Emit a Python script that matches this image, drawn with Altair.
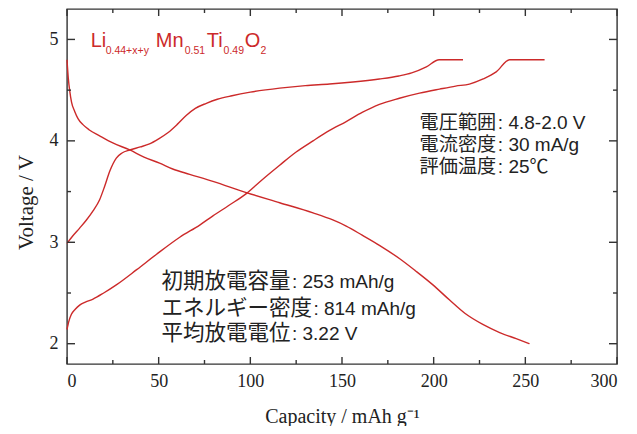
import altair as alt
import pandas as pd

# ---- data ----
# first charge (starts at ~3.0 V)
cap_c1 = [0, 3, 6.9, 10.6, 14.2, 17.8, 20.5, 23.3, 26.9, 30, 34.2, 40, 45, 50, 55,
          60, 65, 70, 76, 82, 90, 100, 116, 130, 143.2, 156, 170.4, 181, 188, 196, 203, 216]
volt_c1 = [2.99, 3.06, 3.14, 3.22, 3.31, 3.42, 3.55, 3.70, 3.83, 3.88, 3.91, 3.94, 3.97, 4.02, 4.08,
           4.16, 4.25, 4.32, 4.37, 4.41, 4.445, 4.48, 4.52, 4.545, 4.56, 4.58, 4.61, 4.64, 4.67, 4.73,
           4.80, 4.80]

# second charge (starts at ~2.15 V)
cap_c2 = [0, 1, 2.4, 4.5, 6.9, 10, 14.2, 20, 26.9, 38, 48.7, 61.5, 72.4, 79.6, 88, 97.8, 106,
          116, 125, 134.2, 143, 152.3, 161, 170.4, 181.3, 192.3, 203.2, 212, 219.5, 227, 234.1,
          241.4, 250, 260.5]
volt_c2 = [2.14, 2.22, 2.29, 2.34, 2.38, 2.41, 2.44, 2.50, 2.58, 2.73, 2.88, 3.05, 3.17, 3.26, 3.36,
           3.48, 3.61, 3.76, 3.89, 4.00, 4.10, 4.19, 4.28, 4.36, 4.42, 4.47, 4.51, 4.54, 4.56, 4.61,
           4.68, 4.80, 4.80, 4.80]

# discharge
cap_d = [0, 0.7, 1.5, 2.5, 4.2, 6, 8.7, 12, 17.8, 25, 34.2, 42, 50.5, 58, 66.9, 79.6, 97.8, 116,
         134.2, 145, 152.3, 161, 170.4, 181.3, 190, 199.6, 208.7, 217, 226.8, 236, 245, 252.3]
volt_d = [4.80, 4.62, 4.49, 4.38, 4.29, 4.22, 4.16, 4.11, 4.05, 3.98, 3.91, 3.84, 3.78, 3.72, 3.67,
          3.60, 3.49, 3.39, 3.29, 3.22, 3.16, 3.07, 2.97, 2.84, 2.72, 2.58, 2.43, 2.30, 2.19, 2.11,
          2.05, 2.00]

x_major = [0, 50, 100, 150, 200, 250, 300]
x_minor = [25, 75, 125, 175, 225, 275]
y_major = [2, 3, 4, 5]
y_minor = [2.5, 3.5, 4.5]

# annotation texts (Japanese part, then the Latin part that follows it)
right_jp = ["電圧範囲", "電流密度", "評価温度"]
right_lat = [": 4.8-2.0 V", ": 30 mA/g", ": 25℃"]
right_y = [4.114, 3.897, 3.687]
right_x = 192.3
bottom_jp = ["初期放電容量", "エネルギー密度", "平均放電電位"]
bottom_lat = [": 253 mAh/g", ": 814 mAh/g", ": 3.22 V"]
bottom_y = [2.550, 2.286, 2.040]
bottom_x = 51.5

formula_big = ["Li", "Mn", "Ti", "O"]
formula_big_x = [12.9, 48.4, 76.2, 96.9]
formula_sub = ["0.44+x+y", "0.51", "0.49", "2"]
formula_sub_x = [21.1, 64.2, 85.4, 105.6]
formula_big_y = 4.924
formula_sub_y = 4.852

RED = "#cc2a2a"
INK = "#222222"
W, H = 550, 355
PX = 300 / W  # data units per pixel along x
JP_R, JP_B, LAT = 19.2, 21.5, 19

rows = []
for name, xs, ys in [("charge1", cap_c1, volt_c1), ("charge2", cap_c2, volt_c2), ("discharge", cap_d, volt_d)]:
    for i, (a, b) in enumerate(zip(xs, ys)):
        rows.append({"series": name, "cap": a, "volt": b, "order": i})
df = pd.DataFrame(rows)

xscale = alt.Scale(domain=[0, 300], nice=False, zero=False)
yscale = alt.Scale(domain=[1.8, 5.3], nice=False, zero=False)

xaxis = alt.Axis(values=x_major, title="Capacity / mAh g⁻¹", ticks=False, domain=False, grid=False,
                 labelFont="Liberation Serif", labelFontSize=18, labelColor=INK, labelPadding=8,
                 titleFont="Liberation Serif", titleFontSize=20, titleFontWeight="normal",
                 titleColor=INK, titlePadding=16)
yaxis = alt.Axis(values=y_major, title="Voltage / V", ticks=False, domain=False, grid=False,
                 labelFont="Liberation Serif", labelFontSize=18, labelColor=INK, labelPadding=9,
                 titleFont="Liberation Serif", titleFontSize=21, titleFontWeight="normal",
                 titleColor=INK, titleX=-31, titleY=193)

X = alt.X("cap:Q", scale=xscale, axis=xaxis)
Y = alt.Y("volt:Q", scale=yscale, axis=yaxis)

lines = alt.Chart(df).mark_line(color=RED, strokeWidth=1.4, interpolate="monotone").encode(
    x=X, y=Y, detail="series:N", order="order:Q")

TC = "#333333"
def xticks(vals, length, top):
    d = pd.DataFrame({"cap": vals})
    if top:
        enc = dict(y=alt.value(0), y2=alt.value(length))
    else:
        enc = dict(y=alt.value(H), y2=alt.value(H - length))
    return alt.Chart(d).mark_rule(color=TC, strokeWidth=1.4).encode(x=X, **enc)

def yticks(vals, length, right):
    d = pd.DataFrame({"volt": vals})
    if right:
        enc = dict(x=alt.value(W), x2=alt.value(W - length))
    else:
        enc = dict(x=alt.value(0), x2=alt.value(length))
    return alt.Chart(d).mark_rule(color=TC, strokeWidth=1.4).encode(y=Y, **enc)

ticks = [xticks(x_major, 7, False), xticks(x_minor, 4, False), xticks(x_major, 7, True), xticks(x_minor, 4, True),
         yticks(y_major, 8, False), yticks(y_minor, 4, False), yticks(y_major, 8, True), yticks(y_minor, 4, True)]

def text_layer(xs, ys, texts, font, size, color):
    d = pd.DataFrame({"cap": xs, "volt": ys, "t": texts})
    return alt.Chart(d).mark_text(align="left", baseline="alphabetic", font=font,
                                  fontSize=size, color=color).encode(x=X, y=Y, text="t:N")

JPF = "Noto Sans CJK JP"
LATF = "Liberation Sans, Noto Sans CJK JP"
GAP = 1.5 * PX
txt_r_jp = text_layer([right_x] * 3, right_y, right_jp, JPF, JP_R, INK)
txt_r_lat = text_layer([right_x + len(s) * JP_R * PX + GAP for s in right_jp], right_y, right_lat, LATF, LAT, INK)
txt_b_jp = text_layer([bottom_x] * 3, bottom_y, bottom_jp, JPF, JP_B, INK)
txt_b_lat = text_layer([bottom_x + len(s) * JP_B * PX + GAP for s in bottom_jp], bottom_y, bottom_lat, LATF, LAT, INK)

f_big = text_layer(formula_big_x, [formula_big_y] * 4, formula_big, "Liberation Sans", 20, RED)
f_sub = text_layer(formula_sub_x, [formula_sub_y] * 4, formula_sub, "Liberation Sans", 10.5, RED)

chart = alt.layer(lines, *ticks, txt_r_jp, txt_r_lat, txt_b_jp, txt_b_lat, f_big, f_sub).properties(
    width=W, height=H,
    padding={"left": 59, "top": 1, "right": 12, "bottom": 62},
    autosize=alt.AutoSizeParams(type="none"),
    background="white",
).configure_view(stroke=TC, strokeWidth=1.4)

chart.save("out.html", embed_options={"renderer": "svg", "actions": False})
